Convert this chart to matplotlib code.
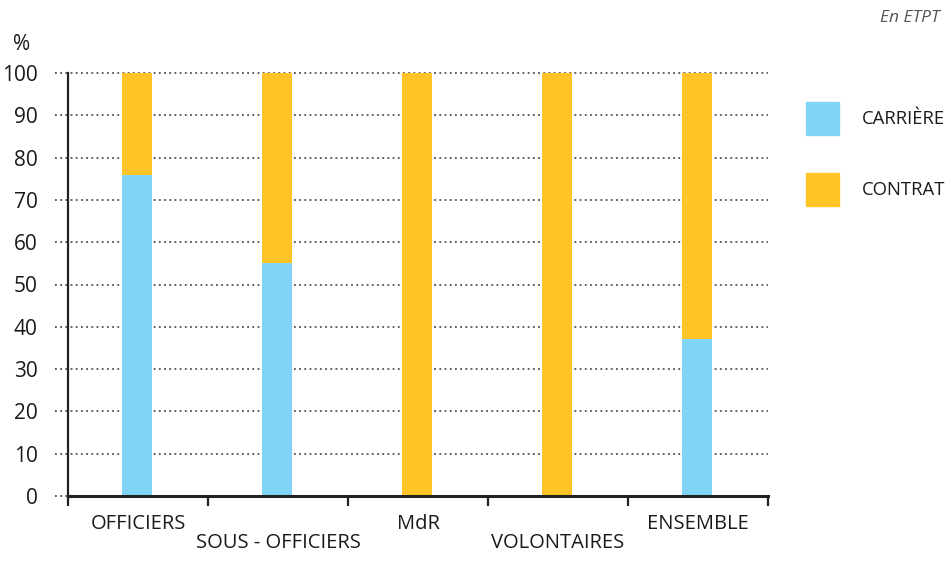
import matplotlib.pyplot as plt
from matplotlib.patches import Rectangle
import numpy as np

plt.rcParams['font.family'] = ['Open Sans', 'DejaVu Sans']

categories = ['OFFICIERS', 'SOUS - OFFICIERS', 'MdR', 'VOLONTAIRES', 'ENSEMBLE']
carriere = [76, 55, 0, 0, 37]
contrat = [24, 45, 100, 100, 63]
series_names = ['CARRIÈRE', 'CONTRAT']
yticks = [0, 10, 20, 30, 40, 50, 60, 70, 80, 90, 100]

blue = '#80d4f6'
yellow = '#ffc425'
W, H = 951, 563

fig = plt.figure(figsize=(W / 100, H / 100), dpi=100)
ax = fig.add_axes([68 / W, 1 - 496 / H, 700 / W, 423 / H])

x = np.arange(len(categories))
ax.bar(x - 0.01, carriere, width=0.215, color=blue, zorder=3)
ax.bar(x - 0.01, contrat, width=0.215, bottom=carriere, color=yellow, zorder=3)

ax.set_xlim(-0.5, len(categories) - 0.5)
ax.set_ylim(0, 100)

# dotted grid lines, starting a bit left of the axis
ax.hlines(yticks, -13 / 700, 1, transform=ax.get_yaxis_transform(),
          colors='#333333', linestyles=(0, (1.2, 2.2)), linewidth=1.1,
          clip_on=False, zorder=1)

ax.set_yticks(yticks)
ax.tick_params(axis='y', length=0, pad=22, labelsize=15, labelcolor='#1a1a1a')
ax.set_xticks(np.arange(-0.5, len(categories), 1.0))
ax.set_xticklabels([])
ax.tick_params(axis='x', length=7, width=1.6, direction='out', color='#222222')

for s in ['top', 'right']:
    ax.spines[s].set_visible(False)
ax.spines['left'].set_linewidth(1.6)
ax.spines['left'].set_color('#222222')
ax.spines['bottom'].set_linewidth(2.2)
ax.spines['bottom'].set_color('#222222')
ax.spines['bottom'].set_zorder(4)

# staggered category labels
for i, name in enumerate(categories):
    off = 28 if i % 2 == 0 else 47
    ax.annotate(name, xy=(i, 0), xycoords=('data', 'axes fraction'),
                xytext=(0, -off * 0.72), textcoords='offset points',
                ha='center', va='center', fontsize=14.5, color='#1a1a1a')

fig.text(22 / W, 1 - 44 / H, '%', ha='center', va='center', fontsize=15, color='#1a1a1a')
fig.text(940 / W, 1 - 18 / H, 'En ETPT', ha='right', va='center', fontsize=12.5,
         style='italic', color='#555555')

# legend
for j, (name, col) in enumerate(zip(series_names, [blue, yellow])):
    y0 = 102 + j * 71
    fig.patches.append(Rectangle((806 / W, 1 - (y0 + 33) / H), 33 / W, 33 / H,
                                 transform=fig.transFigure, color=col))
    fig.text(862 / W, 1 - (y0 + 17) / H, name, ha='left', va='center',
             fontsize=13.3, color='#1a1a1a')

fig.savefig('out.png', dpi=100)
